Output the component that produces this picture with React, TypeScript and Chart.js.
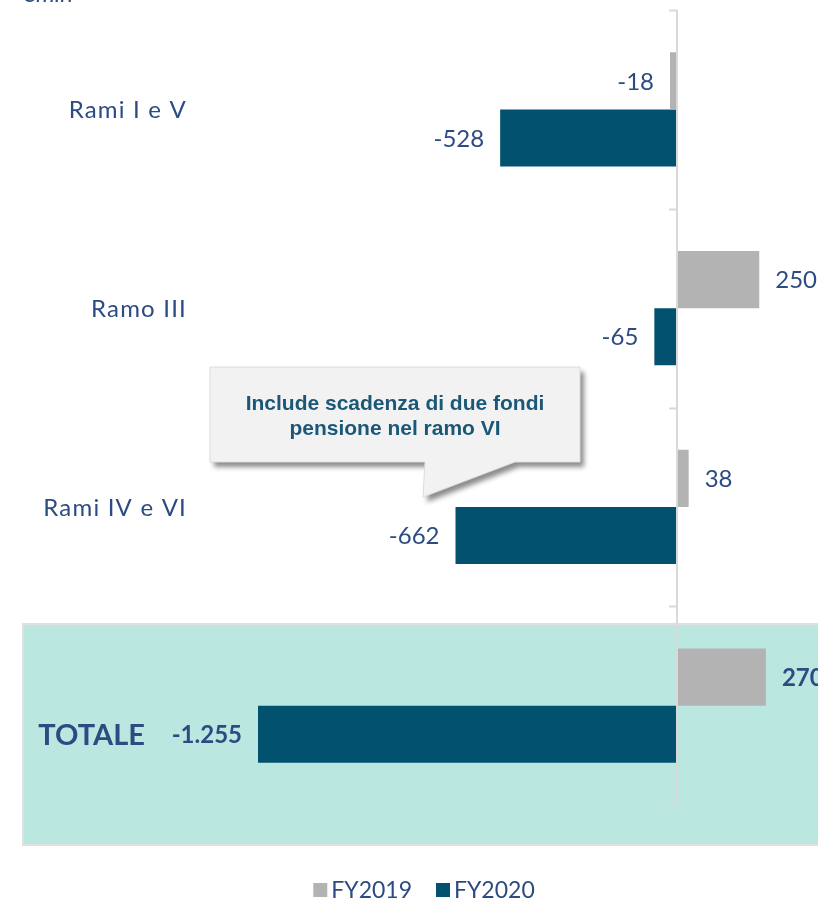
import React, { useEffect, useRef } from 'react';
import { Chart, registerables } from 'chart.js';

Chart.register(...registerables);

const categories = ['Rami I e V', 'Ramo III', 'Rami IV e VI', 'TOTALE'];
const seriesNames = ['FY2019', 'FY2020'];
const fy2019 = [-18, 250, 38, 270];
const fy2020 = [-528, -65, -662, -1255];
const unitLabel = '€mln';
const calloutLines = ['Include scadenza di due fondi', 'pensione nel ramo VI'];

const COLORS = ['#b3b3b3', '#02526f'];
const TEXT = '#2c4b82';
const FONT = 'Lato, "DejaVu Sans", sans-serif';

function fmt(v: number): string {
  const s = Math.abs(v).toString();
  const withDots = s.replace(/\B(?=(\d{3})+(?!\d))/g, '.');
  return (v < 0 ? '-' : '') + withDots;
}

const overlay = {
  id: 'overlay',
  beforeDatasetsDraw(chart: any) {
    const { ctx, chartArea } = chart;
    const n = categories.length;
    const band = (chartArea.bottom - chartArea.top) / n;
    ctx.save();
    const boxTop = chartArea.top + band * (n - 1) + 17;
    const boxBottom = chartArea.bottom + 40;
    ctx.fillStyle = '#bae8e1';
    ctx.fillRect(22, boxTop, 830, boxBottom - boxTop);
    ctx.strokeStyle = '#e0e0e0';
    ctx.lineWidth = 2;
    ctx.beginPath();
    ctx.moveTo(23, boxBottom);
    ctx.lineTo(23, boxTop + 1);
    ctx.lineTo(830, boxTop + 1);
    ctx.stroke();
    ctx.beginPath();
    ctx.moveTo(22, boxBottom);
    ctx.lineTo(830, boxBottom);
    ctx.stroke();
    ctx.restore();
  },
  afterDatasetsDraw(chart: any) {
    const { ctx, chartArea, scales } = chart;
    const xs = scales.x;
    const ys = scales.y;
    const n = categories.length;
    const band = (chartArea.bottom - chartArea.top) / n;
    const x0 = xs.getPixelForValue(0);
    ctx.save();
    ctx.strokeStyle = '#d9d9d9';
    ctx.lineWidth = 2;
    ctx.beginPath();
    ctx.moveTo(x0 + 1, chartArea.top);
    ctx.lineTo(x0 + 1, chartArea.bottom);
    for (let i = 0; i <= n; i++) {
      const yy = Math.round(chartArea.top + band * i) + 0.5;
      ctx.moveTo(x0 - 7, yy);
      ctx.lineTo(x0 + 1, yy);
    }
    ctx.stroke();

    ctx.fillStyle = TEXT;
    ctx.textBaseline = 'middle';
    categories.forEach((c, i) => {
      const yc = ys.getPixelForValue(i);
      ctx.textAlign = 'right';
      if (i === n - 1) {
        ctx.font = `bold 29px ${FONT}`;
        (ctx as any).letterSpacing = '0px';
        ctx.fillText(c, 145, yc + 30);
      } else {
        ctx.font = `24px ${FONT}`;
        (ctx as any).letterSpacing = '1.2px';
        ctx.fillText(c, 187, yc + 1);
      }
    });
    (ctx as any).letterSpacing = '0px';

    chart.data.datasets.forEach((ds: any, di: number) => {
      const meta = chart.getDatasetMeta(di);
      meta.data.forEach((el: any, i: number) => {
        const v = ds.data[i] as number;
        const isTotal = i === n - 1;
        ctx.font = isTotal ? `bold 24px ${FONT}` : `24px ${FONT}`;
        ctx.textAlign = v < 0 ? 'right' : 'left';
        const xx = v < 0 ? el.x - 16 : el.x + 16;
        ctx.fillText(fmt(v), xx, el.y + 1);
      });
    });

    ctx.font = `italic 24px ${FONT}`;
    ctx.textAlign = 'left';
    ctx.textBaseline = 'alphabetic';
    ctx.fillText(unitLabel, 22, 2);
    ctx.restore();
  },
  afterDraw(chart: any) {
    const { ctx } = chart;
    ctx.save();
    const bx = 210, by = 367, bw = 370, bh = 95;
    const path = () => {
      ctx.beginPath();
      ctx.moveTo(bx, by);
      ctx.lineTo(bx + bw, by);
      ctx.lineTo(bx + bw, by + bh);
      ctx.lineTo(515, by + bh);
      ctx.lineTo(423, 497);
      ctx.lineTo(425, by + bh);
      ctx.lineTo(bx, by + bh);
      ctx.closePath();
    };
    ctx.shadowColor = 'rgba(0,0,0,0.45)';
    ctx.shadowBlur = 5;
    ctx.shadowOffsetX = 4;
    ctx.shadowOffsetY = 5;
    path();
    ctx.fillStyle = '#f2f2f2';
    ctx.fill();
    ctx.shadowColor = 'transparent';
    ctx.strokeStyle = '#dcdcdc';
    ctx.lineWidth = 1;
    path();
    ctx.stroke();
    ctx.fillStyle = '#1b5878';
    ctx.font = 'bold 21px "Liberation Sans", Arial, sans-serif';
    ctx.textAlign = 'center';
    ctx.textBaseline = 'middle';
    ctx.fillText(calloutLines[0], 395, 404);
    ctx.fillText(calloutLines[1], 395, 429);

    ctx.font = `23px ${FONT}`;
    ctx.textBaseline = 'middle';
    ctx.textAlign = 'left';
    const sq = 14, gap = 4, spacing = 24;
    const widths = seriesNames.map((s) => ctx.measureText(s).width);
    const total = widths.reduce((a, w) => a + sq + gap + w, 0) + spacing;
    let lx = 424 - total / 2;
    const ly = 890;
    seriesNames.forEach((s, i) => {
      ctx.fillStyle = COLORS[i];
      ctx.fillRect(lx, ly - sq / 2, sq, sq);
      ctx.fillStyle = TEXT;
      ctx.fillText(s, lx + sq + gap, ly + 1);
      lx += sq + gap + widths[i] + spacing;
    });
    ctx.restore();
  },
};

export default function App() {
  const ref = useRef<HTMLCanvasElement | null>(null);
  useEffect(() => {
    if (!ref.current) return;
    const k = 418 / 1255;
    const xMin = -1400;
    const xMax = 300;
    const chart = new Chart(ref.current, {
      type: 'bar',
      data: {
        labels: categories,
        datasets: [
          { label: seriesNames[0], data: fy2019, backgroundColor: COLORS[0], categoryPercentage: 0.574, barPercentage: 1 },
          { label: seriesNames[1], data: fy2020, backgroundColor: COLORS[1], categoryPercentage: 0.574, barPercentage: 1 },
        ],
      },
      options: {
        indexAxis: 'y',
        responsive: false,
        animation: false,
        layout: {
          padding: { left: 676 + xMin * k, right: 818 - (676 + xMax * k), top: 10, bottom: 95 },
        },
        scales: {
          x: { display: false, min: xMin, max: xMax },
          y: { display: false },
        },
        plugins: {
          legend: { display: false },
          tooltip: { enabled: false },
        },
      },
      plugins: [overlay],
    });
    return () => chart.destroy();
  }, []);
  return (
    <div style={{ position: 'absolute', left: 0, top: 0, width: 818, height: 900, background: '#fff' }}>
      <canvas ref={ref} width={818} height={900} />
    </div>
  );
}
